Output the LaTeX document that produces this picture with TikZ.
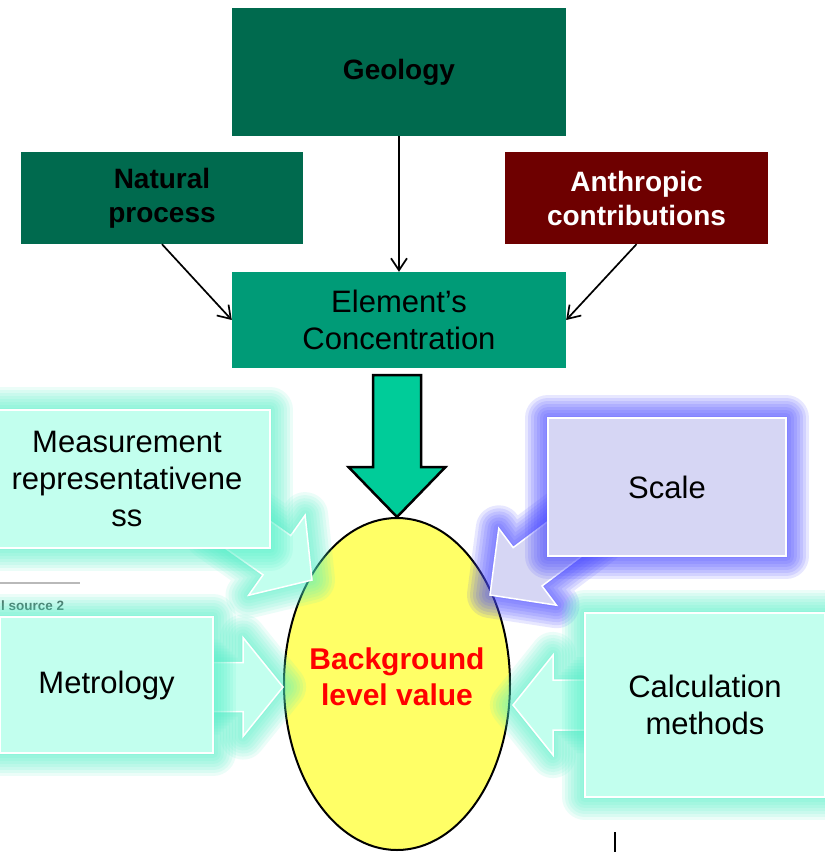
\documentclass[tikz,border=0pt]{standalone}
\usepackage{fontspec}
\setmainfont{Liberation Sans}
\usetikzlibrary{arrows.meta, shapes.geometric}

\definecolor{geogreen}{HTML}{006A4E}
\definecolor{elemgreen}{HTML}{009B77}
\definecolor{arrgreen}{HTML}{00CC99}
\definecolor{anthred}{HTML}{6E0000}
\definecolor{paleaqua}{HTML}{C2FFEE}
\definecolor{aquaglow}{HTML}{4CF0C8}
\definecolor{palelav}{HTML}{D6D6F4}
\definecolor{lavglow}{HTML}{4A4AFF}
\definecolor{bgyellow}{HTML}{FFFF66}

\begin{document}
\begin{tikzpicture}[
  x=1pt, y=-1pt,
  big/.style={font=\fontsize{31}{37}\selectfont, align=center},
  bold/.style={font=\fontsize{28}{34}\selectfont\bfseries, align=center},
  topbox/.style={bold, inner sep=0pt},
  glow/.style 2 args={
    preaction={draw=#1, line width=46pt, opacity=#2, line join=round},
    preaction={draw=#1, line width=40pt, opacity=#2, line join=round},
    preaction={draw=#1, line width=34pt, opacity=#2, line join=round},
    preaction={draw=#1, line width=28pt, opacity=#2, line join=round},
    preaction={draw=#1, line width=22pt, opacity=#2, line join=round},
    preaction={draw=#1, line width=16pt, opacity=#2, line join=round},
    preaction={draw=#1, line width=10pt, opacity=#2, line join=round},
    preaction={draw=#1, line width=4pt, opacity=#2, line join=round}},
  softbox/.style={big, draw=white, line width=1.5pt, fill=paleaqua, glow={aquaglow}{.11}, inner sep=0pt},
  lavbox/.style={big, draw=white, line width=1.5pt, fill=palelav, glow={lavglow}{.13}, inner sep=0pt},
  thinarr/.style={-{Straight Barb[length=12pt, width=16pt]}, line width=1.7pt},
  aquaarr/.style={draw=white, line width=1.5pt, fill=paleaqua, glow={aquaglow}{.11}},
  lavarr/.style={draw=white, line width=1.5pt, fill=palelav, glow={lavglow}{.13}},
  bigarr/.style={draw=black, line width=2.5pt, fill=arrgreen}
]
  \fill[white] (0,0) rectangle (825,852);
  \useasboundingbox (0,0) rectangle (825,852);

  % leftovers of the source page
  \draw[gray!55, line width=2pt] (0,583) -- (80,583);
  \node[font=\fontsize{13.5}{16}\selectfont\bfseries, text=black!70, anchor=west, inner sep=0pt] (srcnote) at (1,606) {l source 2};
  \draw[line width=2pt] (615,832) -- (615,852);

  % factors acting on the concentration
  \node[topbox, fill=geogreen, minimum width=334, minimum height=128] (geology) at (399,72) {Geology};
  \node[topbox, fill=geogreen, minimum width=282, minimum height=92] (natural) at (162,198) {Natural\\process};
  \node[topbox, fill=anthred, text=white, minimum width=263, minimum height=92] (anthropic) at (636.5,198) {Anthropic\\contributions};
  \node[big, fill=elemgreen, inner sep=0pt, minimum width=334, minimum height=96] (element) at (399,320) {Element’s\\Concentration};

  \draw[thinarr] (geology) -- (element);
  \draw[thinarr] (natural.south) -- (element.west);
  \draw[thinarr] (anthropic.south) -- (element.east);

  % background value
  \node[ellipse, draw, line width=2pt, fill=bgyellow, minimum width=226, minimum height=332, inner sep=0pt] (background) at (397,684) {};
  \node[bold, font=\fontsize{30}{36}\selectfont\bfseries, text=red, inner sep=0pt] (bglabel) at ([yshift=7pt]background.center) {Background\\level value};

  \draw[bigarr, shift={(background.north)}, rotate=-90] (0,0) -- (-50,48.5) -- (-50,24) -- (-142,24) -- (-142,-24) -- (-50,-24) -- (-50,-48.5) -- cycle;

  % block arrows
  \coordinate (measuretip) at (312,580);
  \coordinate (scaletip) at (490,595);
  \coordinate (metrotip) at (283,687);
  \coordinate (calctip) at (513,705);

  \draw[aquaarr, shift={(measuretip)}, rotate=-35.2] (0,0) -- (-43,49) -- (-43,24) -- (-110,24) -- (-110,-24) -- (-43,-24) -- (-43,-49) -- cycle;
  \draw[lavarr, shift={(scaletip)}, rotate=-143.1] (0,0) -- (-47,48) -- (-47,24) -- (-120,24) -- (-120,-24) -- (-47,-24) -- (-47,-48) -- cycle;
  \draw[aquaarr, shift={(metrotip)}] (0,0) -- (-40,49.5) -- (-40,24.5) -- (-80,24.5) -- (-80,-24.5) -- (-40,-24.5) -- (-40,-49.5) -- cycle;
  \draw[aquaarr, shift={(calctip)}, rotate=180] (0,0) -- (-40,50) -- (-40,25) -- (-80,25) -- (-80,-25) -- (-40,-25) -- (-40,-50) -- cycle;

  % influencing aspects
  \node[softbox, minimum width=286, minimum height=138] (measure) at (127,479) {Measurement\\representativene\\ss};
  \node[lavbox, minimum width=238, minimum height=138] (scale) at (667,487) {Scale};
  \node[softbox, minimum width=213, minimum height=136] (metro) at (106.5,685) {Metrology};
  \node[softbox, minimum width=240, minimum height=184] (calc) at (705,705) {Calculation\\methods};
\end{tikzpicture}
\end{document}
